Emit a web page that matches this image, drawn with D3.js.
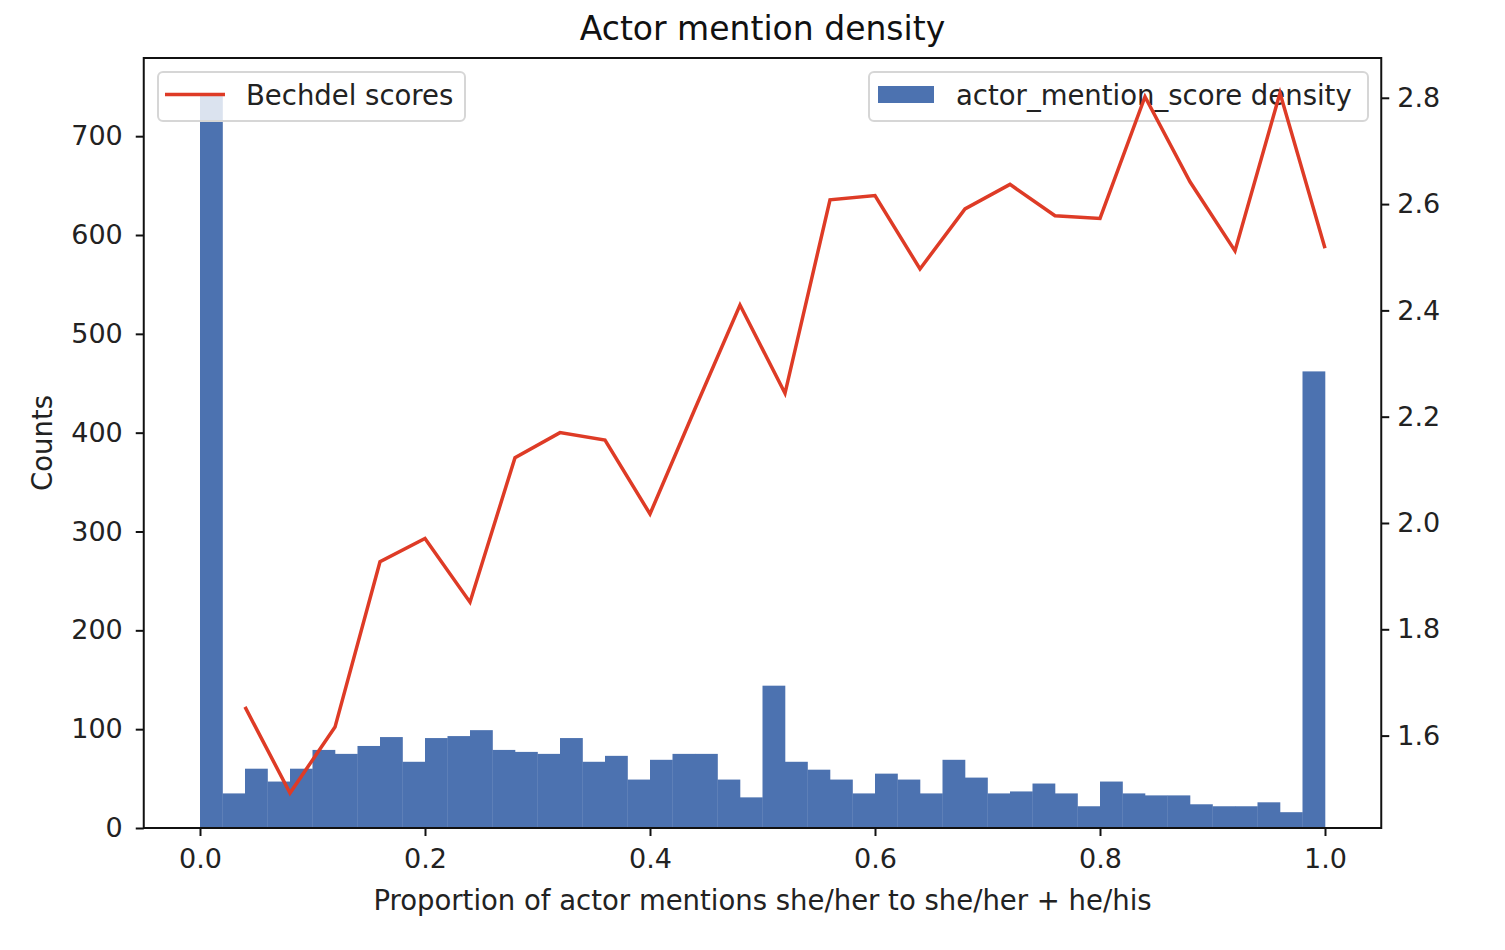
<!DOCTYPE html>
<html>
<head>
<meta charset="utf-8">
<script src="https://cdn.jsdelivr.net/npm/d3@7"></script>
<style>
  html, body { margin: 0; padding: 0; background: #fff; }
  svg { display: block; font-family: "DejaVu Sans", sans-serif; }
</style>
</head>
<body>
<svg id="chart" width="1505" height="950"></svg>
<script>
// ---- data ----
const binCounts = [742, 35, 60, 47, 60, 79, 75, 83, 92, 67, 91, 93, 99, 79, 77, 75, 91, 67, 73, 49,
                   69, 75, 75, 49, 31, 144, 67, 59, 49, 35, 55, 49, 35, 69, 51, 35, 37, 45, 35, 22,
                   47, 35, 33, 33, 24, 22, 22, 26, 16, 462];
const bechdelX = [0.04, 0.08, 0.12, 0.16, 0.20, 0.24, 0.28, 0.32, 0.36, 0.40, 0.44, 0.48, 0.52,
                  0.56, 0.60, 0.64, 0.68, 0.72, 0.76, 0.80, 0.84, 0.88, 0.92, 0.96, 1.00];
const bechdelY = [1.654, 1.492, 1.616, 1.927, 1.971, 1.851, 2.123, 2.170, 2.156, 2.017, 2.215, 2.410, 2.244,
                  2.608, 2.616, 2.478, 2.591, 2.637, 2.578, 2.573, 2.802, 2.642, 2.512, 2.809, 2.517];
const xTicks = [0.0, 0.2, 0.4, 0.6, 0.8, 1.0];
const leftTicks = [0, 100, 200, 300, 400, 500, 600, 700];
const rightTicks = [1.6, 1.8, 2.0, 2.2, 2.4, 2.6, 2.8];
const titleText = "Actor mention density";
const xLabel = "Proportion of actor mentions she/her to she/her + he/his";
const yLabel = "Counts";
const barLegend = "actor_mention_score density";
const lineLegend = "Bechdel scores";

// ---- layout ----
const L = 143.75, R = 1381.25, T = 58, B = 828;
const TICK_FS = 27, LABEL_FS = 27.5, TITLE_FS = 33;
const barColor = "#4c72b0";
const lineColor = "#de3b26";
const svg = d3.select("#chart");

const nBins = binCounts.length;
const bins = binCounts.map((c, i) => ({ x0: i / nBins, x1: (i + 1) / nBins, c }));

const x = d3.scaleLinear().domain([-0.05, 1.05]).range([L, R]);
const cMax = d3.max(binCounts);
const yL = d3.scaleLinear().domain([0, cMax * 1.05]).range([B, T]);
const bMin = d3.min(bechdelY), bMax = d3.max(bechdelY), bPad = (bMax - bMin) * 0.05;
const yR = d3.scaleLinear().domain([bMin - bPad, bMax + bPad]).range([B, T]);

// bars
svg.append("g").selectAll("rect").data(bins).join("rect")
  .attr("x", d => x(d.x0))
  .attr("width", d => x(d.x1) - x(d.x0) + 0.3)
  .attr("y", d => yL(d.c))
  .attr("height", d => B - yL(d.c))
  .attr("fill", barColor);

// legend helper
function legendBox(x0, y0, w, h) {
  svg.append("rect").attr("x", x0).attr("y", y0).attr("width", w).attr("height", h)
    .attr("rx", 5).attr("fill", "#fff").attr("fill-opacity", 0.8)
    .attr("stroke", "#d6d6d6").attr("stroke-width", 2);
}

// right legend (belongs to histogram axes, under the line)
legendBox(869, 72, 499, 49);
svg.append("rect").attr("x", 878).attr("y", 86).attr("width", 56).attr("height", 17).attr("fill", barColor);
svg.append("text").attr("x", 956).attr("y", 105).attr("font-size", LABEL_FS).attr("fill", "#222").text(barLegend);

// line
svg.append("path")
  .datum(bechdelX.map((v, i) => [v, bechdelY[i]]))
  .attr("fill", "none").attr("stroke", lineColor).attr("stroke-width", 3.5)
  .attr("stroke-linejoin", "miter")
  .attr("d", d3.line().x(d => x(d[0])).y(d => yR(d[1])));

// left legend (belongs to twin axes, on top)
legendBox(158, 72, 307, 49);
svg.append("line").attr("x1", 165).attr("x2", 225).attr("y1", 94.5).attr("y2", 94.5)
  .attr("stroke", lineColor).attr("stroke-width", 3.5);
svg.append("text").attr("x", 246).attr("y", 105).attr("font-size", LABEL_FS).attr("fill", "#222").text(lineLegend);

// frame
svg.append("rect").attr("x", L).attr("y", T).attr("width", R - L).attr("height", B - T)
  .attr("fill", "none").attr("stroke", "#111").attr("stroke-width", 2);

function styleAxis(g) {
  g.select(".domain").remove();
  g.selectAll(".tick line").attr("stroke", "#111").attr("stroke-width", 2);
  g.selectAll(".tick text").attr("font-size", TICK_FS).attr("fill", "#222")
    .attr("font-family", "DejaVu Sans, sans-serif");
}

// axes
svg.append("g").attr("transform", `translate(0,${B})`)
  .call(d3.axisBottom(x).tickValues(xTicks).tickFormat(d3.format(".1f")).tickSizeOuter(0).tickSize(8).tickPadding(13))
  .call(styleAxis);
svg.append("g").attr("transform", `translate(${L},0)`)
  .call(d3.axisLeft(yL).tickValues(leftTicks).tickFormat(d3.format("d")).tickSizeOuter(0).tickSize(8).tickPadding(13))
  .call(styleAxis);
svg.append("g").attr("transform", `translate(${R},0)`)
  .call(d3.axisRight(yR).tickValues(rightTicks).tickFormat(d3.format(".1f")).tickSizeOuter(0).tickSize(8).tickPadding(8))
  .call(styleAxis);

// labels
svg.append("text").attr("x", (L + R) / 2).attr("y", 40).attr("text-anchor", "middle")
  .attr("font-size", TITLE_FS).attr("fill", "#111").text(titleText);
svg.append("text").attr("x", (L + R) / 2).attr("y", 910).attr("text-anchor", "middle")
  .attr("font-size", LABEL_FS).attr("fill", "#222").text(xLabel);
svg.append("text").attr("transform", `translate(52,${(T + B) / 2}) rotate(-90)`)
  .attr("text-anchor", "middle").attr("font-size", LABEL_FS).attr("fill", "#222").text(yLabel);
</script>
</body>
</html>
